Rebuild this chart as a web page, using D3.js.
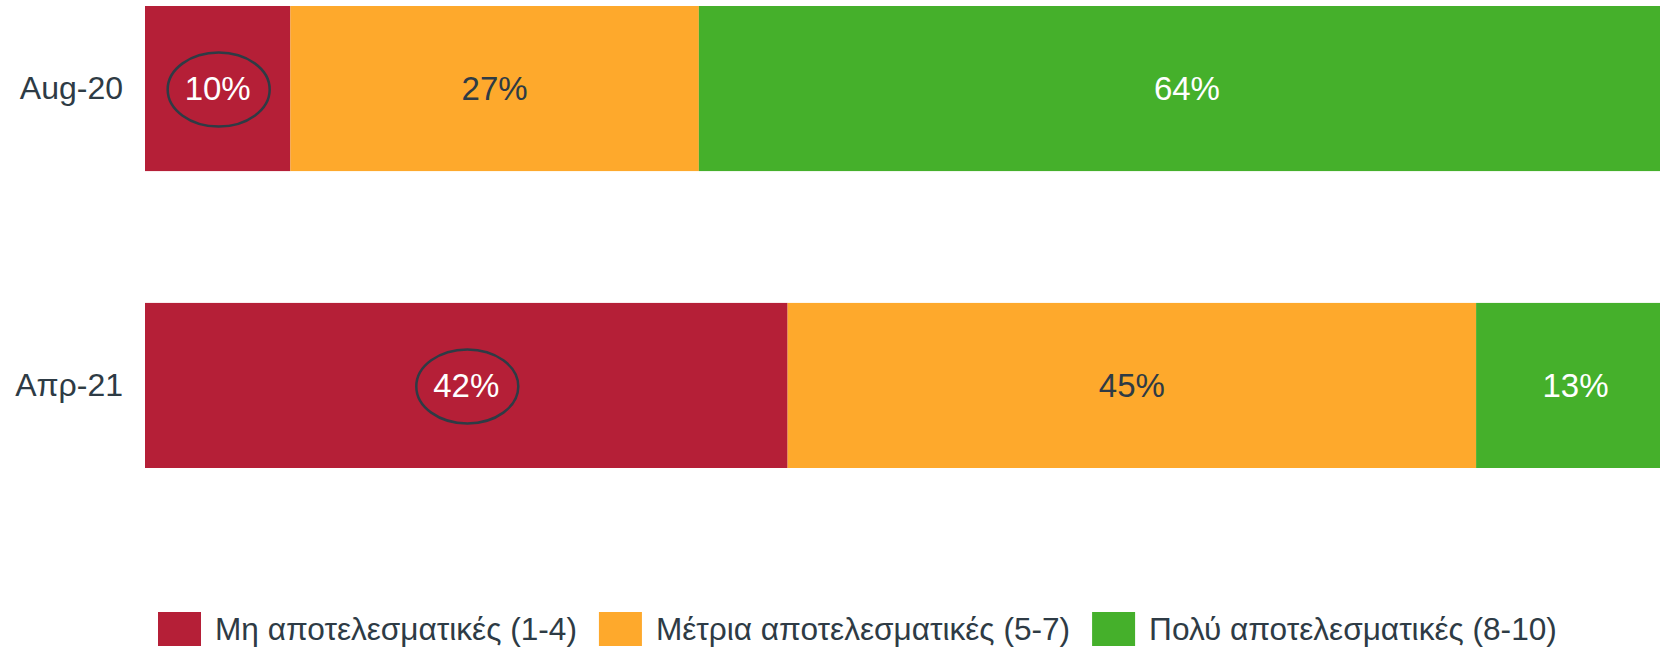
<!DOCTYPE html>
<html lang="el">
<head>
<meta charset="UTF-8">
<title>Αποτελεσματικότητα</title>
<script src="https://d3js.org/d3.v7.min.js"></script>
<style>
  body { margin: 0; background: #fff; }
  svg { display: block; }
  text { font-family: "Liberation Sans", Arial, sans-serif; }
</style>
</head>
<body>
<div id="chart"></div>
<script>
    // δεδομένα
    const periods = ["Aug-20", "Απρ-21"];
    const seriesNames = ["Μη αποτελεσματικές (1-4)", "Μέτρια αποτελεσματικές (5-7)", "Πολύ αποτελεσματικές (8-10)"];
    const notEffective = [9.5, 42];
    const moderate = [26.7, 45];
    const veryEffective = [63.8, 13];
    const colors = ["#b51f37", "#fea92c", "#45b02b"];
    const labelColors = ["#ffffff", "#2e3b45", "#ffffff"];
    // ποιες τιμές είναι κυκλωμένες (σειρά, περίοδος)
    const circled = [[0, "Aug-20"], [0, "Απρ-21"]];

    const width = 1660, height = 651;
    const textColor = "#2e3b45";

    const rows = periods.map((p, i) => ({
        period: p,
        s0: notEffective[i],
        s1: moderate[i],
        s2: veryEffective[i]
    }));
    const stack = d3.stack().keys(["s0", "s1", "s2"]);
    const layers = stack(rows);

    const svg = d3.select("#chart").append("svg")
        .attr("width", width)
        .attr("height", height);

    const x = d3.scaleLinear().domain([0, 100]).range([145, 1675]);
    const y = d3.scaleBand().domain(periods).range([6, 468])
        .paddingInner(0.444).paddingOuter(0);

    const groups = svg.selectAll("g.layer")
        .data(layers)
        .enter().append("g")
        .attr("class", "layer")
        .attr("fill", (d, i) => colors[i]);

    groups.selectAll("rect")
        .data(d => d)
        .enter().append("rect")
        .attr("x", d => x(d[0]))
        .attr("y", d => y(d.data.period))
        .attr("width", d => x(d[1]) - x(d[0]))
        .attr("height", y.bandwidth());

    // ετικέτες τιμών
    layers.forEach((layer, i) => {
        svg.selectAll("text.val" + i)
            .data(layer)
            .enter().append("text")
            .attr("class", "val" + i)
            .attr("x", d => (x(d[0]) + x(d[1])) / 2)
            .attr("y", d => y(d.data.period) + y.bandwidth() / 2)
            .attr("dy", "0.36em")
            .attr("text-anchor", "middle")
            .attr("font-size", 33)
            .attr("fill", labelColors[i])
            .text(d => Math.round(d[1] - d[0]) + "%");
    });

    // κύκλοι γύρω από τιμές
    svg.selectAll("ellipse")
        .data(circled)
        .enter().append("ellipse")
        .attr("cx", d => {
            const seg = layers[d[0]][periods.indexOf(d[1])];
            return (x(seg[0]) + x(seg[1])) / 2 + 1;
        })
        .attr("cy", d => y(d[1]) + y.bandwidth() / 2 + 1)
        .attr("rx", 51)
        .attr("ry", 37)
        .attr("fill", "none")
        .attr("stroke", textColor)
        .attr("stroke-width", 2.5);

    // άξονας y
    const yAxis = svg.append("g")
        .attr("transform", "translate(145,0)")
        .call(d3.axisLeft(y).tickSize(0).tickPadding(22));
    yAxis.select(".domain").remove();
    yAxis.selectAll("text")
        .attr("font-size", 32)
        .attr("font-family", "Liberation Sans, Arial, sans-serif")
        .attr("fill", textColor);

    // υπόμνημα
    const legend = svg.append("g").attr("transform", "translate(158,612)");
    let lx = 0;
    seriesNames.forEach((name, i) => {
        const item = legend.append("g").attr("transform", "translate(" + lx + ",0)");
        item.append("rect")
            .attr("width", 43)
            .attr("height", 34)
            .attr("fill", colors[i]);
        const t = item.append("text")
            .attr("x", 57)
            .attr("y", 17)
            .attr("dy", "0.36em")
            .attr("font-size", 31.6)
            .attr("font-family", "Roboto, sans-serif")
            .attr("fill", textColor)
            .text(name);
        lx += 57 + t.node().getComputedTextLength() + 22;
    });
</script>
</body>
</html>
